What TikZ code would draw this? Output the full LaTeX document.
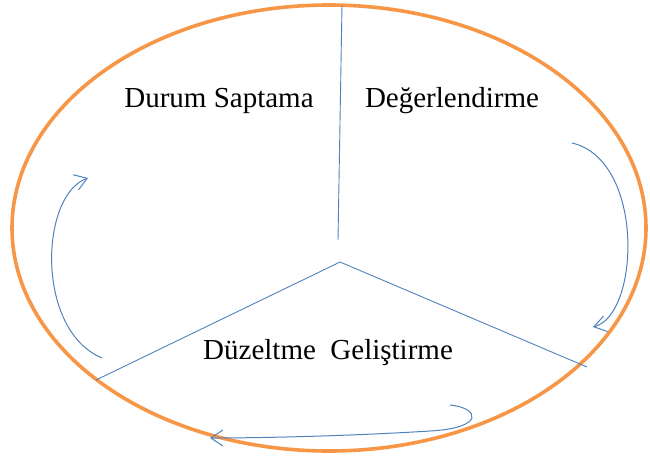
\documentclass[tikz,border=0pt]{standalone}
\usepackage{fontspec}
\setmainfont{Liberation Serif}
\usetikzlibrary{arrows.meta}
\definecolor{ringorange}{RGB}{247,150,70}
\definecolor{lineblue}{RGB}{79,129,189}

\begin{document}
\begin{tikzpicture}[x=1pt, y=-1pt,
	ring/.style={draw=ringorange, line width=3.6pt},
	spoke/.style={draw=lineblue, line width=0.9pt},
	cycle/.style={draw=lineblue, line width=1pt, -{Straight Barb[length=12pt,width=16pt]}},
	label/.style={font=\fontsize{29}{31}\selectfont, inner sep=0pt, anchor=base}]
	\useasboundingbox (0,0) rectangle (650,459);

	\draw[ring] (329,228) ellipse [x radius=317, y radius=223];

	\coordinate (hub) at (340,262);
	\coordinate (up) at (342,5);
	\coordinate (upend) at (338,240);
	\coordinate (left) at (96,380);
	\coordinate (right) at (587,367);

	\draw[spoke] (up) -- (upend);
	\draw[spoke] (left) -- (hub) -- (right);

	\node[label] (durum) at (219,107) {Durum Saptama};
	\node[label] (deger) at (452,107) {Değerlendirme};
	\node[label, anchor=base west] (duzelt) at (203,359) {Düzeltme\ \ Geliştirme};

	\draw[cycle] (102,358) .. controls (35,330) and (40,195) .. (88,178);
	\draw[cycle] (572,143) .. controls (645,160) and (640,315) .. (593,327);
	\draw[cycle] (450,405) .. controls (480,408) and (485,428) .. (430,431)
		.. controls (350,436) and (260,438) .. (210,438);
\end{tikzpicture}
\end{document}
